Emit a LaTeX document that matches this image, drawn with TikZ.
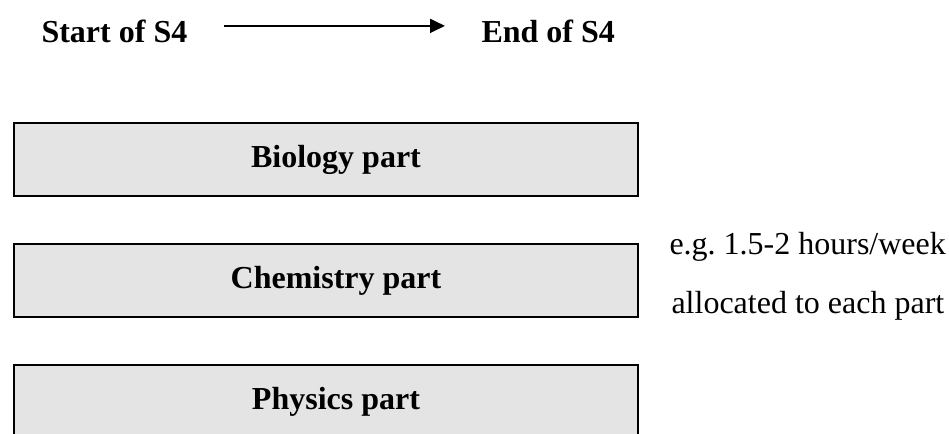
\documentclass[tikz,border=0pt]{standalone}
\usepackage{fontspec}
\setmainfont{Liberation Serif}
\usetikzlibrary{arrows.meta, positioning}
\definecolor{partgray}{HTML}{E4E4E4}

\begin{document}
\begin{tikzpicture}[
    x=0.375pt, y=-0.375pt,
    node distance=17.25pt,
    term/.style={font=\fontsize{12}{14}\selectfont\bfseries, inner sep=0pt},
    note/.style={font=\fontsize{12}{14}\selectfont, inner sep=0pt, anchor=base west},
    partbox/.style={draw, line width=0.75pt, fill=partgray, minimum width=234pt,
        minimum height=27.4pt, anchor=north west},
    arr/.style={-{Triangle[length=5.6pt, width=5.2pt]}, line width=0.75pt},
]
    \useasboundingbox (0,0) rectangle (949,434);

    \node[term, anchor=base west] (start) at (41,43) {Start of S4};
    \node[term, anchor=base west] (end) at (481,43) {End of S4};
    \draw[arr] ([xshift=13.5pt, yshift=2.25pt]start.east)
        -- ([xshift=-13.5pt, yshift=2.25pt]end.west);

    \node[partbox, label={[term, xshift=3.75pt]center:Biology part}] (bio) at (13,122) {};
    \node[partbox, below=of bio, label={[term, xshift=3.75pt]center:Chemistry part}] (chem) {};
    \node[partbox, below=of chem, label={[term, xshift=3.75pt]center:Physics part}] (phys) {};

    \node[note] (eg) at (669,255) {e.g.\ 1.5-2 hours/week};
    \node[note] (alloc) at (671,314) {allocated to each part};
\end{tikzpicture}
\end{document}
